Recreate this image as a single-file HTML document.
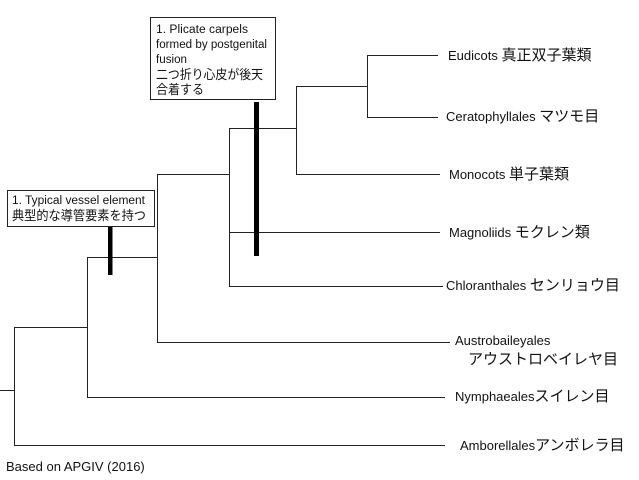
<!DOCTYPE html>
<html><head><meta charset="utf-8"><style>
html,body{margin:0;padding:0;background:#fff;}
svg{display:block;}
text{font-family:"Liberation Sans","Noto Sans CJK JP",sans-serif;font-size:13px;fill:#111;}
.s{font-size:11.5px;}
.j{font-size:15px;}
</style></head><body>
<svg width="639" height="480" viewBox="0 0 639 480">
<g stroke="#222" stroke-width="1" fill="none">
<path d="M0 390.5H14.5M14.5 327V445.5H445"/>
<path d="M14.5 327.5H87.5M87.5 257V397.5H445"/>
<path d="M87.5 257.5H157.5M157.5 174V342.5H450"/>
<path d="M157.5 174.5H229.5M229.5 128V286.5H443"/>
<path d="M229.5 232.5H440"/>
<path d="M229.5 128.5H296.5M296.5 86V174.5H440"/>
<path d="M296.5 86.5H367.5M367.5 55V117.5H438M367.5 55.5H438"/>
<rect x="150.5" y="17.5" width="125" height="82"/>
<rect x="7.5" y="190.5" width="147" height="36"/>
</g>
<rect x="254" y="102" width="5" height="154" fill="#000"/>
<rect x="108" y="227" width="4.5" height="48" fill="#000"/>
<text class="s" x="156" y="33" textLength="92" lengthAdjust="spacingAndGlyphs">1. Plicate carpels</text>
<text class="s" x="156" y="48" textLength="111" lengthAdjust="spacingAndGlyphs">formed by postgenital</text>
<text class="s" x="156" y="63" textLength="31" lengthAdjust="spacingAndGlyphs">fusion</text>
<text x="156" y="79" textLength="107" lengthAdjust="spacingAndGlyphs">二つ折り心皮が後天</text>
<text x="156" y="94" textLength="48" lengthAdjust="spacingAndGlyphs">合着する</text>
<text class="s" x="12" y="204" textLength="133" lengthAdjust="spacingAndGlyphs">1. Typical vessel element</text>
<text x="12" y="220" textLength="134" lengthAdjust="spacingAndGlyphs">典型的な導管要素を持つ</text>
<text x="448" y="60">Eudicots <tspan class="j">真正双子葉類</tspan></text>
<text x="446" y="121">Ceratophyllales <tspan class="j">マツモ目</tspan></text>
<text x="449" y="179">Monocots <tspan class="j">単子葉類</tspan></text>
<text x="449" y="237">Magnoliids <tspan class="j">モクレン類</tspan></text>
<text x="446" y="290">Chloranthales <tspan class="j">センリョウ目</tspan></text>
<text x="455" y="345">Austrobaileyales</text>
<text x="468" y="364" class="j">アウストロベイレヤ目</text>
<text x="455" y="401">Nymphaeales<tspan class="j">スイレン目</tspan></text>
<text x="460" y="450">Amborellales<tspan class="j">アンボレラ目</tspan></text>
<text x="6" y="471">Based on APGIV (2016)</text>
</svg>
</body></html>
